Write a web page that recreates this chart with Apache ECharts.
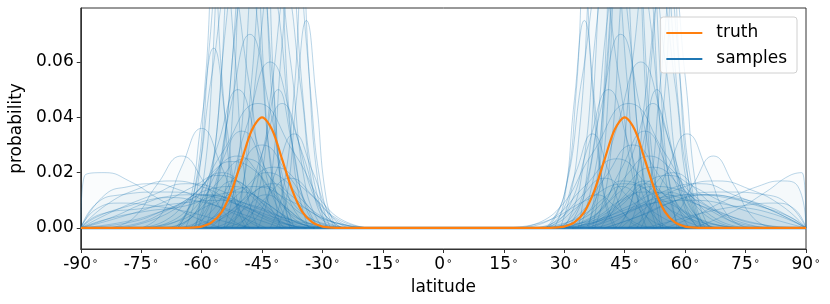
<!DOCTYPE html>
<html>
<head>
<meta charset="utf-8">
<script src="https://cdn.jsdelivr.net/npm/echarts@6/dist/echarts.min.js"></script>
<style>
  html, body { margin: 0; padding: 0; background: #fff; }
  #chart { width: 830px; height: 304px; }
</style>
</head>
<body>
<div id="chart"></div>
<script>
// tick labels
var xTicks = [-90, -75, -60, -45, -30, -15, 0, 15, 30, 45, 60, 75, 90];
var yTicks = [0, 0.02, 0.04, 0.06];

// truth density, [latitude, probability]
var truth = [
  [-90, 0], [-67.5, 0], [-65, 0.00002], [-62.5, 0.0001], [-60, 0.0005], [-57.5, 0.002],
  [-55, 0.0058], [-52.5, 0.0136], [-50, 0.0247], [-47.5, 0.0355], [-45, 0.04],
  [-42.5, 0.0355], [-40, 0.0247], [-37.5, 0.0136], [-35, 0.0058], [-32.5, 0.002],
  [-30, 0.0005], [-27.5, 0.0001], [-25, 0.00002], [-22.5, 0],
  [22.5, 0], [25, 0.00002], [27.5, 0.0001], [30, 0.0005], [32.5, 0.002], [35, 0.0058],
  [37.5, 0.0136], [40, 0.0247], [42.5, 0.0355], [45, 0.04], [47.5, 0.0355], [50, 0.0247],
  [52.5, 0.0136], [55, 0.0058], [57.5, 0.002], [60, 0.0005], [62.5, 0.0001], [65, 0.00002],
  [67.5, 0], [90, 0]
];

// flat part shared by all samples
var baseline = [[-90, 0], [90, 0]];

// sample curves, southern bump
var samplesSouth = [
  [[-56,0],[-53,0.027],[-50,0.121],[-47,0.2],[-44,0.121],[-41,0.027],[-38,0]],
  [[-54.5,0],[-51,0.022],[-47.5,0.097],[-44,0.16],[-40.5,0.097],[-37,0.022],[-33.5,0]],
  [[-62,0],[-58,0.016],[-54,0.073],[-50,0.12],[-46,0.073],[-42,0.016],[-38,0]],
  [[-54,0],[-50,0.0135],[-46,0.061],[-42,0.1],[-38,0.061],[-34,0.0135],[-30,0]],
  [[-66.5,0],[-62,0.012],[-57.5,0.055],[-53,0.09],[-48.5,0.055],[-44,0.012],[-39.5,0]],
  [[-49.5,0],[-46,0.0115],[-42.5,0.052],[-39,0.085],[-35.5,0.052],[-32,0.0115],[-28.5,0]],
  [[-61,0],[-56,0.0175],[-51,0.079],[-46,0.13],[-41,0.079],[-36,0.0175],[-31,0]],
  [[-64,0],[-61,0.015],[-58,0.067],[-55,0.11],[-52,0.067],[-49,0.015],[-46,0]],
  [[-41.5,0],[-39,0.01],[-36.5,0.046],[-34,0.075],[-31.5,0.046],[-29,0.01],[-26.5,0]],
  [[-63,0],[-58,0.0095],[-53,0.0425],[-48,0.07],[-43,0.0425],[-38,0.0095],[-33,0]],
  [[-61,0],[-55,0.008],[-49,0.036],[-43,0.06],[-37,0.036],[-31,0.008],[-25,0]],
  [[-66,0],[-61,0.007],[-56,0.03],[-51,0.05],[-46,0.03],[-41,0.007],[-36,0]],
  [[-55,0],[-50,0.006],[-45,0.027],[-40,0.045],[-35,0.027],[-30,0.006],[-25,0]],
  [[-75,0],[-70,0.005],[-65,0.022],[-60,0.036],[-55,0.022],[-50,0.005],[-45,0]],
  [[-50.5,0],[-46,0.0046],[-41.5,0.0206],[-37,0.034],[-32.5,0.0206],[-28,0.0046],[-23.5,0]],
  [[-66,0],[-59,0.004],[-52,0.018],[-45,0.03],[-38,0.018],[-31,0.004],[-24,0]],
  [[-73,0],[-65,0.0034],[-57,0.015],[-49,0.025],[-41,0.015],[-33,0.0034],[-25,0]],
  [[-66,0],[-58,0.003],[-50,0.0134],[-42,0.022],[-34,0.0134],[-26,0.003],[-18,0]],
  [[-76,0],[-69,0.0027],[-62,0.012],[-55,0.02],[-48,0.012],[-41,0.0027],[-34,0]],
  [[-56,0],[-50,0.0024],[-44,0.011],[-38,0.018],[-32,0.011],[-26,0.0024],[-20,0]],
  [[-83,0],[-77,0.0035],[-71,0.0158],[-65,0.026],[-59,0.0158],[-53,0.0035],[-47,0]],
  [[-77,0],[-67,0.002],[-57,0.0091],[-47,0.015],[-37,0.0091],[-27,0.002],[-17,0]],
  [[-85,0],[-76,0.0016],[-67,0.0073],[-58,0.012],[-49,0.0073],[-40,0.0016],[-31,0]],
  [[-70,0],[-64,0.0023],[-58,0.0103],[-52,0.017],[-46,0.0103],[-40,0.0023],[-34,0]],
  [[-59,0],[-54,0.0016],[-49,0.0073],[-44,0.012],[-39,0.0073],[-34,0.0016],[-29,0]],
  [[-66,0],[-63,0.0088],[-60,0.039],[-57,0.065],[-54,0.039],[-51,0.0088],[-48,0]],
  [[-52.5,0],[-50,0.012],[-47.5,0.055],[-45,0.09],[-42.5,0.055],[-40,0.012],[-37.5,0]],
  [[-51.5,0],[-48,0.0068],[-44.5,0.03],[-41,0.05],[-37.5,0.03],[-34,0.0068],[-30.5,0]],
  [[-61,0],[-57,0.024],[-53,0.109],[-49,0.18],[-45,0.109],[-41,0.024],[-37,0]],
  [[-59,0],[-54,0.034],[-49,0.152],[-44,0.25],[-39,0.152],[-34,0.034],[-29,0]],
  [[-61.5,0],[-58,0.04],[-54.5,0.18],[-51,0.3],[-47.5,0.18],[-44,0.04],[-40.5,0]],
  [[-46,0],[-43,0.015],[-40,0.067],[-37,0.11],[-34,0.067],[-31,0.015],[-28,0]],
  [[-73,0],[-64,0.006],[-55,0.027],[-46,0.045],[-37,0.027],[-28,0.006],[-19,0]],
  [[-68,0],[-62,0.0047],[-56,0.021],[-50,0.035],[-44,0.021],[-38,0.0047],[-32,0]],
  [[-90,0],[-86,0.009],[-80,0.012],[-70,0.013],[-60,0.012],[-50,0.008],[-40,0.003],[-30,0]],
  [[-90,0],[-89,0.019],[-84,0.02],[-78,0.017],[-70,0.01],[-62,0.004],[-55,0]],
  [[-90,0],[-82,0.006],[-72,0.012],[-64,0.016],[-56,0.014],[-48,0.007],[-40,0.002],[-34,0]],
  [[-90,0],[-80,0.004],[-70,0.009],[-62,0.015],[-56,0.019],[-50,0.016],[-44,0.008],[-38,0.002],[-32,0]],
  [[-90,0],[-84,0.008],[-76,0.014],[-68,0.017],[-60,0.015],[-52,0.009],[-44,0.003],[-38,0]],
  [[-90,0],[-78,0.002],[-70,0.006],[-62,0.012],[-56,0.022],[-51,0.026],[-46,0.02],[-40,0.008],[-34,0.002],[-28,0]],
  [[-90,0],[-86,0.004],[-78,0.008],[-70,0.011],[-62,0.012],[-54,0.011],[-46,0.007],[-38,0.003],[-30,0.001],[-24,0]],
  [[-90,0],[-84,0.012],[-78,0.015],[-72,0.016],[-66,0.014],[-58,0.009],[-50,0.004],[-44,0]],
  [[-90,0],[-80,0.002],[-72,0.005],[-64,0.01],[-58,0.018],[-53,0.024],[-48,0.022],[-43,0.014],[-38,0.006],[-32,0.001],[-28,0]],
  [[-60,0],[-52,0.006],[-46,0.014],[-42,0.016],[-38,0.012],[-32,0.005],[-26,0.0015],[-20,0]],
  [[-58,0],[-50,0.01],[-44,0.02],[-40,0.018],[-35,0.01],[-30,0.004],[-24,0.001],[-18,0]],
  [[-90,0],[-85,0.005],[-75,0.007],[-65,0.009],[-55,0.01],[-47,0.008],[-40,0.004],[-32,0]],
  [[-90,0],[-84,0.003],[-74,0.006],[-64,0.008],[-56,0.012],[-50,0.013],[-44,0.009],[-38,0.003],[-32,0]],
  [[-66,0],[-62,0.012],[-59,0.055],[-57,0.1],[-55,0.055],[-52,0.012],[-49,0]],
  [[-43,0],[-40,0.012],[-37,0.05],[-35,0.095],[-33,0.05],[-30,0.012],[-27,0]],
  [[-90,0],[-82,0.004],[-74,0.009],[-68,0.011],[-62,0.01],[-54,0.007],[-46,0.003],[-40,0]],
  [[-80,0],[-72,0.003],[-64,0.009],[-58,0.014],[-52,0.015],[-46,0.011],[-40,0.005],[-34,0.001],[-28,0]],
  [[-62,0],[-54,0.005],[-48,0.012],[-44,0.015],[-40,0.011],[-35,0.005],[-28,0.001],[-22,0]],
  [[-90,0],[-86,0.007],[-80,0.009],[-72,0.008],[-64,0.006],[-56,0.003],[-48,0]]
];

// sample curves, northern bump
var samplesNorth = [
  [[36,0],[39,0.03],[42,0.134],[45,0.22],[48,0.134],[51,0.03],[54,0]],
  [[37.5,0],[41,0.02],[44.5,0.091],[48,0.15],[51.5,0.091],[55,0.02],[58.5,0]],
  [[30,0],[34,0.016],[38,0.073],[42,0.12],[46,0.073],[50,0.016],[54,0]],
  [[39,0],[43,0.0135],[47,0.061],[51,0.1],[55,0.061],[59,0.0135],[63,0]],
  [[25.5,0],[30,0.012],[34.5,0.055],[39,0.09],[43.5,0.055],[48,0.012],[52.5,0]],
  [[43.5,0],[47,0.0115],[50.5,0.052],[54,0.085],[57.5,0.052],[61,0.0115],[64.5,0]],
  [[31,0],[36,0.0175],[41,0.079],[46,0.13],[51,0.079],[56,0.0175],[61,0]],
  [[27.5,0],[30,0.01],[32.5,0.046],[35,0.075],[37.5,0.046],[40,0.01],[42.5,0]],
  [[48,0],[51,0.012],[54,0.055],[57,0.09],[60,0.055],[63,0.012],[66,0]],
  [[29,0],[34,0.0095],[39,0.0425],[44,0.07],[49,0.0425],[54,0.0095],[59,0]],
  [[31,0],[37,0.008],[43,0.036],[49,0.06],[55,0.036],[61,0.008],[67,0]],
  [[26,0],[31,0.007],[36,0.03],[41,0.05],[46,0.03],[51,0.007],[56,0]],
  [[37,0],[42,0.006],[47,0.027],[52,0.045],[57,0.027],[62,0.006],[67,0]],
  [[45.5,0],[50.5,0.0046],[55.5,0.0206],[60.5,0.034],[65.5,0.0206],[70.5,0.0046],[75.5,0]],
  [[25,0],[29,0.0046],[33,0.0206],[37,0.034],[41,0.0206],[45,0.0046],[49,0]],
  [[26,0],[33,0.004],[40,0.018],[47,0.03],[54,0.018],[61,0.004],[68,0]],
  [[19,0],[27,0.0034],[35,0.015],[43,0.025],[51,0.015],[59,0.0034],[67,0]],
  [[28,0],[36,0.003],[44,0.0134],[52,0.022],[60,0.0134],[68,0.003],[76,0]],
  [[36,0],[43,0.0027],[50,0.012],[57,0.02],[64,0.012],[71,0.0027],[78,0]],
  [[22,0],[28,0.0024],[34,0.011],[40,0.018],[46,0.011],[52,0.0024],[58,0]],
  [[52,0],[57,0.0035],[62,0.0158],[67,0.026],[72,0.0158],[77,0.0035],[82,0]],
  [[15,0],[25,0.0022],[35,0.0097],[45,0.016],[55,0.0097],[65,0.0022],[75,0]],
  [[28,0],[37,0.0018],[46,0.0079],[55,0.013],[64,0.0079],[73,0.0018],[82,0]],
  [[32,0],[38,0.0023],[44,0.0103],[50,0.017],[56,0.0103],[62,0.0023],[68,0]],
  [[23,0],[28,0.0016],[33,0.0073],[38,0.012],[43,0.0073],[48,0.0016],[53,0]],
  [[37,0],[40.5,0.038],[44,0.17],[47.5,0.28],[51,0.17],[54.5,0.038],[58,0]],
  [[35.5,0],[38,0.012],[40.5,0.055],[43,0.09],[45.5,0.055],[48,0.012],[50.5,0]],
  [[42.5,0],[46,0.0068],[49.5,0.03],[53,0.05],[56.5,0.03],[60,0.0068],[63.5,0]],
  [[29,0],[33,0.024],[37,0.109],[41,0.18],[45,0.109],[49,0.024],[53,0]],
  [[34,0],[39,0.034],[44,0.152],[49,0.25],[54,0.152],[59,0.034],[64,0]],
  [[33.5,0],[37,0.04],[40.5,0.18],[44,0.3],[47.5,0.18],[51,0.04],[54.5,0]],
  [[46,0],[49,0.015],[52,0.067],[55,0.11],[58,0.067],[61,0.015],[64,0]],
  [[19,0],[28,0.006],[37,0.027],[46,0.045],[55,0.027],[64,0.006],[73,0]],
  [[32,0],[38,0.0047],[44,0.021],[50,0.035],[56,0.021],[62,0.0047],[68,0]],
  [[30,0],[40,0.003],[50,0.008],[60,0.012],[70,0.013],[80,0.012],[86,0.008],[90,0]],
  [[55,0],[62,0.004],[70,0.01],[78,0.015],[84,0.017],[88,0.015],[90,0]],
  [[34,0],[40,0.002],[48,0.007],[56,0.014],[64,0.016],[72,0.012],[82,0.006],[90,0]],
  [[32,0],[38,0.002],[44,0.008],[50,0.016],[56,0.019],[62,0.015],[70,0.009],[80,0.004],[90,0]],
  [[44,0],[52,0.009],[60,0.015],[68,0.017],[76,0.014],[84,0.008],[90,0]],
  [[28,0],[34,0.002],[40,0.008],[46,0.02],[51,0.026],[56,0.022],[62,0.012],[70,0.005],[80,0.001],[90,0]],
  [[24,0],[30,0.001],[38,0.003],[46,0.007],[54,0.011],[62,0.012],[70,0.011],[78,0.008],[86,0.004],[90,0]],
  [[62,0],[72,0.006],[80,0.013],[86,0.019],[89,0.02],[90,0]],
  [[32,0],[40,0.004],[46,0.012],[50,0.016],[54,0.013],[60,0.006],[66,0.002],[72,0]],
  [[26,0],[34,0.003],[40,0.01],[44,0.017],[48,0.016],[54,0.009],[60,0.004],[68,0.001],[76,0]],
  [[40,0],[50,0.005],[58,0.01],[66,0.012],[74,0.01],[82,0.006],[90,0]],
  [[36,0],[44,0.005],[52,0.009],[62,0.01],[72,0.008],[82,0.005],[90,0]],
  [[30,0],[38,0.004],[44,0.01],[50,0.013],[56,0.012],[64,0.008],[74,0.003],[84,0]],
  [[26,0],[30,0.012],[33,0.05],[35,0.1],[37,0.05],[40,0.012],[43,0]],
  [[49,0],[52,0.012],[55,0.05],[57,0.095],[59,0.05],[62,0.012],[65,0]],
  [[40,0],[48,0.004],[56,0.009],[64,0.012],[72,0.011],[80,0.008],[86,0.004],[90,0]],
  [[28,0],[34,0.001],[40,0.005],[46,0.011],[52,0.015],[58,0.014],[64,0.009],[72,0.003],[80,0]],
  [[22,0],[28,0.001],[35,0.005],[40,0.011],[44,0.015],[48,0.012],[53,0.005],[60,0.001],[66,0]],
  [[50,0],[58,0.003],[66,0.006],[74,0.008],[82,0.009],[87,0.007],[90,0]]
];

var BLUE = '#1f77b4';
var ORANGE = '#ff7f0e';
var FONT = 'DejaVu Sans';

var chart = echarts.init(document.getElementById('chart'), null, { renderer: 'canvas' });

var series = [];
series.push({
  name: 'samples',
  type: 'line',
  data: baseline,
  symbol: 'none',
  silent: true,
  lineStyle: { color: BLUE, width: 2.5, opacity: 0.9 },
  itemStyle: { color: BLUE }
});
samplesSouth.concat(samplesNorth).forEach(function (pts) {
  series.push({
    name: 'samples',
    type: 'line',
    data: pts,
    symbol: 'none',
    smooth: 0.5,
    silent: true,
    lineStyle: { color: BLUE, width: 1, opacity: 0.3 },
    areaStyle: { color: BLUE, opacity: 0.022, origin: 0 },
    itemStyle: { color: BLUE }
  });
});
series.push({
  name: 'truth',
  type: 'line',
  data: truth,
  symbol: 'none',
  smooth: 0.3,
  silent: true,
  z: 5,
  lineStyle: { color: ORANGE, width: 2.2 },
  itemStyle: { color: ORANGE }
});

var option = {
  animation: false,
  backgroundColor: '#fff',
  grid: {
    left: 75, right: 24, top: 8, bottom: 55,
    show: true, borderColor: '#333', borderWidth: 1, backgroundColor: 'transparent'
  },
  legend: {
    data: [
      { name: 'truth', itemStyle: { color: ORANGE } },
      { name: 'samples', itemStyle: { color: BLUE } }
    ],
    icon: 'rect',
    orient: 'vertical',
    right: 33,
    top: 17,
    itemWidth: 36,
    itemHeight: 2,
    itemGap: 6,
    padding: [6, 10, 4, 6],
    backgroundColor: 'rgba(255,255,255,0.85)',
    borderColor: '#d0d0d0',
    borderWidth: 1,
    borderRadius: 3,
    selectedMode: false,
    textStyle: { fontFamily: FONT, fontSize: 17, color: '#000', padding: [0, 0, 0, 9], lineHeight: 20 }
  },
  xAxis: {
    type: 'value',
    min: xTicks[0],
    max: xTicks[xTicks.length - 1],
    interval: 15,
    name: 'latitude',
    nameLocation: 'middle',
    nameGap: 30,
    nameTextStyle: { fontFamily: FONT, fontSize: 17, color: '#000' },
    axisLine: { show: true, onZero: false, lineStyle: { color: '#333', width: 1 } },
    axisTick: { show: true, length: 4, lineStyle: { color: '#333' } },
    splitLine: { show: false },
    axisLabel: {
      margin: 7,
      fontFamily: FONT,
      fontSize: 17,
      color: '#000',
      formatter: function (v) { return '{n|' + v + '}{d|∘}'; },
      rich: {
        n: { fontFamily: FONT, fontSize: 17, color: '#000' },
        d: { fontFamily: FONT, fontSize: 10, color: '#000', padding: [0, 0, 8, 1] }
      }
    }
  },
  yAxis: {
    type: 'value',
    min: -0.0076,
    max: 0.0795,
    name: 'probability',
    nameLocation: 'middle',
    nameGap: 52,
    nameTextStyle: { fontFamily: FONT, fontSize: 17, color: '#000' },
    axisLine: { show: true, onZero: false, lineStyle: { color: '#333', width: 1 } },
    axisTick: { show: true, length: 4, customValues: yTicks, lineStyle: { color: '#333' } },
    splitLine: { show: false },
    axisLabel: {
      customValues: yTicks,
      margin: 7,
      fontFamily: FONT,
      fontSize: 17,
      color: '#000',
      formatter: function (v) { return v.toFixed(2); }
    }
  },
  series: series
};

chart.setOption(option);
</script>
</body>
</html>
